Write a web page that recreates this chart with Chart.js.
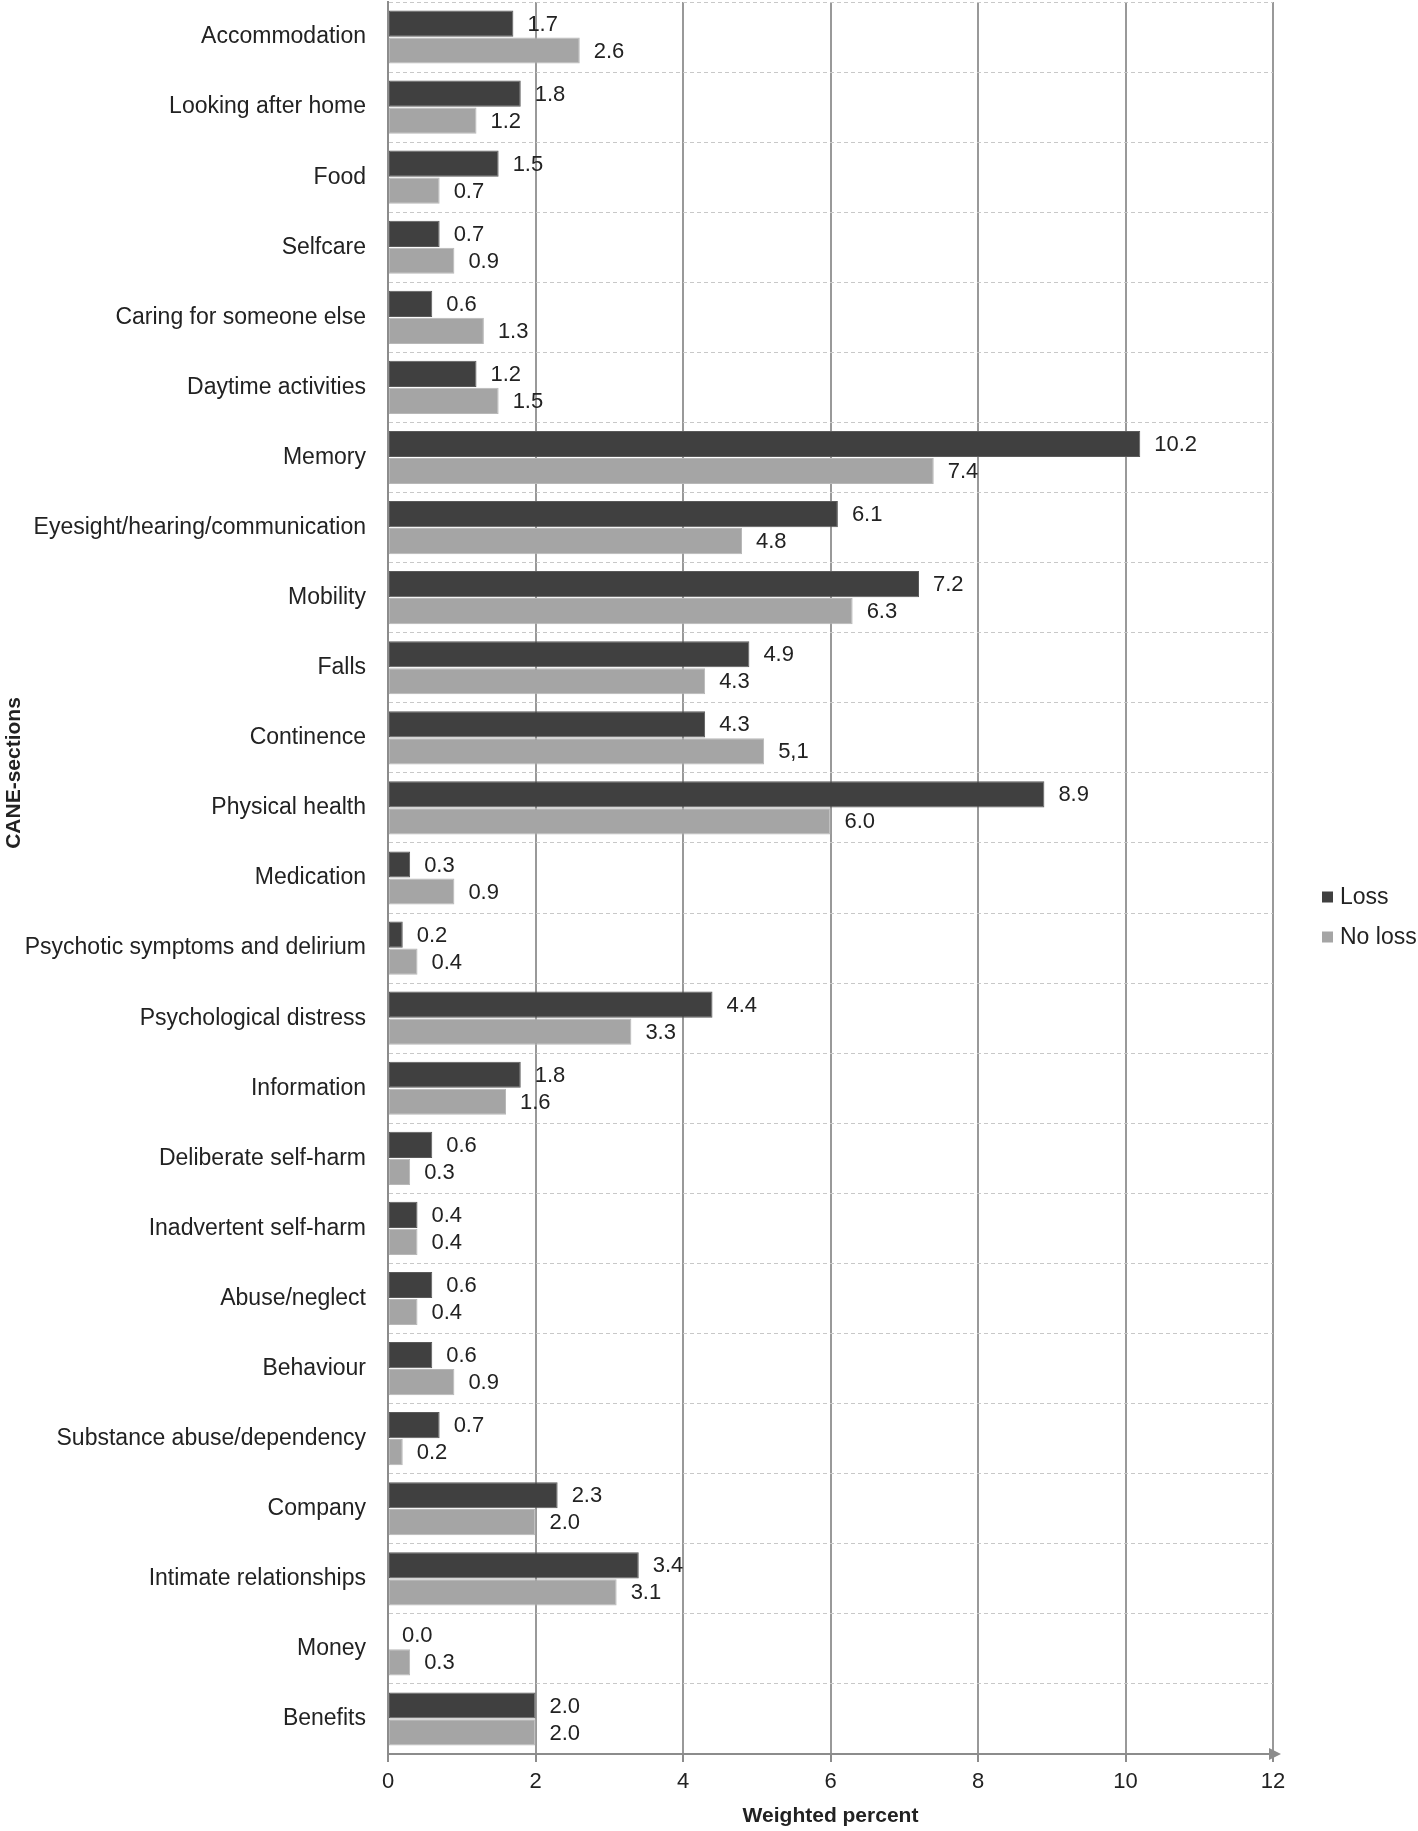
<!DOCTYPE html>
<html>
<head>
<meta charset="utf-8">
<script src="https://cdn.jsdelivr.net/npm/chart.js@4.4.1/dist/chart.umd.min.js"></script>
<style>
  html, body { margin: 0; padding: 0; background: #fff; }
</style>
</head>
<body>
<canvas id="myChart" width="1418" height="1831"></canvas>
<script>
const categories = [
  "Accommodation", "Looking after home", "Food", "Selfcare",
  "Caring for someone else", "Daytime activities", "Memory",
  "Eyesight/hearing/communication", "Mobility", "Falls", "Continence",
  "Physical health", "Medication", "Psychotic symptoms and delirium",
  "Psychological distress", "Information", "Deliberate self-harm",
  "Inadvertent self-harm", "Abuse/neglect", "Behaviour",
  "Substance abuse/dependency", "Company", "Intimate relationships",
  "Money", "Benefits"
];
const loss = [1.7, 1.8, 1.5, 0.7, 0.6, 1.2, 10.2, 6.1, 7.2, 4.9, 4.3, 8.9, 0.3, 0.2, 4.4, 1.8, 0.6, 0.4, 0.6, 0.6, 0.7, 2.3, 3.4, 0.0, 2.0];
const noLoss = [2.6, 1.2, 0.7, 0.9, 1.3, 1.5, 7.4, 4.8, 6.3, 4.3, 5.1, 6.0, 0.9, 0.4, 3.3, 1.6, 0.3, 0.4, 0.4, 0.9, 0.2, 2.0, 3.1, 0.3, 2.0];
// the source prints one value with a decimal comma
const noLossText = noLoss.map(v => v.toFixed(1));
noLossText[10] = "5,1";
const lossText = loss.map(v => v.toFixed(1));
const xTicks = [0, 2, 4, 6, 8, 10, 12];

const FONT = "'Liberation Sans', Arial, sans-serif";
const TEXT = "#222";

// value labels right of each bar
const valueLabels = {
  id: "valueLabels",
  afterDatasetsDraw(chart) {
    const ctx = chart.ctx;
    ctx.save();
    ctx.font = "22px " + FONT;
    ctx.fillStyle = TEXT;
    ctx.textAlign = "left";
    ctx.textBaseline = "middle";
    chart.data.datasets.forEach(function (ds, i) {
      const meta = chart.getDatasetMeta(i);
      meta.data.forEach(function (bar, j) {
        ctx.fillText(ds.valueText[j], bar.x + 14, bar.y + 1);
      });
    });
    ctx.restore();
  }
};

// arrow head on the x axis, y title (sits above centre in the source) and legend
const extras = {
  id: "extras",
  afterDraw(chart) {
    const ctx = chart.ctx;
    const a = chart.chartArea;
    ctx.save();
    ctx.fillStyle = "#8c8c8c";
    ctx.beginPath();
    ctx.moveTo(a.right - 4, a.bottom - 6);
    ctx.lineTo(a.right + 8, a.bottom);
    ctx.lineTo(a.right - 4, a.bottom + 6);
    ctx.closePath();
    ctx.fill();

    // y axis title
    ctx.save();
    ctx.translate(14, 773);
    ctx.rotate(-Math.PI / 2);
    ctx.font = "bold 21px " + FONT;
    ctx.fillStyle = TEXT;
    ctx.textAlign = "center";
    ctx.textBaseline = "middle";
    ctx.fillText("CANE-sections", 0, 0);
    ctx.restore();

    // legend
    const lx = a.right + 49;
    const ly = 897;
    ctx.font = "23px " + FONT;
    ctx.textAlign = "left";
    ctx.textBaseline = "middle";
    chart.data.datasets.forEach(function (ds, i) {
      const y = ly + i * 40;
      ctx.fillStyle = ds.backgroundColor;
      ctx.fillRect(lx, y - 5.5, 11, 11);
      ctx.fillStyle = TEXT;
      ctx.fillText(ds.label, lx + 18, y + 1);
    });
    ctx.restore();
  }
};

const ctx = document.getElementById("myChart").getContext("2d");

const myChart = new Chart(ctx, {
  type: "bar",
  data: {
    labels: categories,
    datasets: [
      {
        label: "Loss",
        data: loss,
        valueText: lossText,
        backgroundColor: "#404040",
        borderColor: "#5a5a5a",
        borderWidth: 1,
        borderSkipped: false,
        barPercentage: 0.97,
        categoryPercentage: 0.77
      },
      {
        label: "No loss",
        data: noLoss,
        valueText: noLossText,
        backgroundColor: "#a5a5a5",
        borderColor: "#b8b8b8",
        borderWidth: 1,
        borderSkipped: false,
        barPercentage: 0.97,
        categoryPercentage: 0.77
      }
    ]
  },
  options: {
    indexAxis: "y",
    responsive: false,
    animation: false,
    layout: { padding: { top: 2, right: 145, bottom: 0, left: 0 } },
    plugins: {
      legend: { display: false },
      tooltip: { enabled: false }
    },
    scales: {
      x: {
        min: 0,
        max: 12,
        afterBuildTicks: function (axis) {
          axis.ticks = xTicks.map(v => ({ value: v }));
        },
        afterFit: function (scale) {
          scale.height = 77;
          scale.paddingLeft = 0;
          scale.paddingRight = 0;
        },
        grid: {
          color: "#999",
          lineWidth: 2,
          drawTicks: true,
          tickLength: 8,
          tickColor: "#8c8c8c"
        },
        border: { display: true, color: "#8c8c8c", width: 2 },
        ticks: {
          font: { family: FONT, size: 22 },
          color: TEXT,
          padding: 7
        },
        title: {
          display: true,
          text: "Weighted percent",
          font: { family: FONT, size: 21, weight: "bold" },
          color: TEXT,
          padding: { top: 0, bottom: 2 }
        }
      },
      y: {
        afterFit: function (scale) {
          scale.width = 388;
          scale.paddingTop = 0;
          scale.paddingBottom = 0;
        },
        grid: {
          color: "#c8c8c8",
          lineWidth: 1,
          drawTicks: false,
          offset: true
        },
        border: { display: true, color: "#8c8c8c", width: 2, dash: [4, 3] },
        ticks: {
          font: { family: FONT, size: 23 },
          color: TEXT,
          padding: 22,
          autoSkip: false
        }
      }
    }
  },
  plugins: [valueLabels, extras]
});
</script>
</body>
</html>
